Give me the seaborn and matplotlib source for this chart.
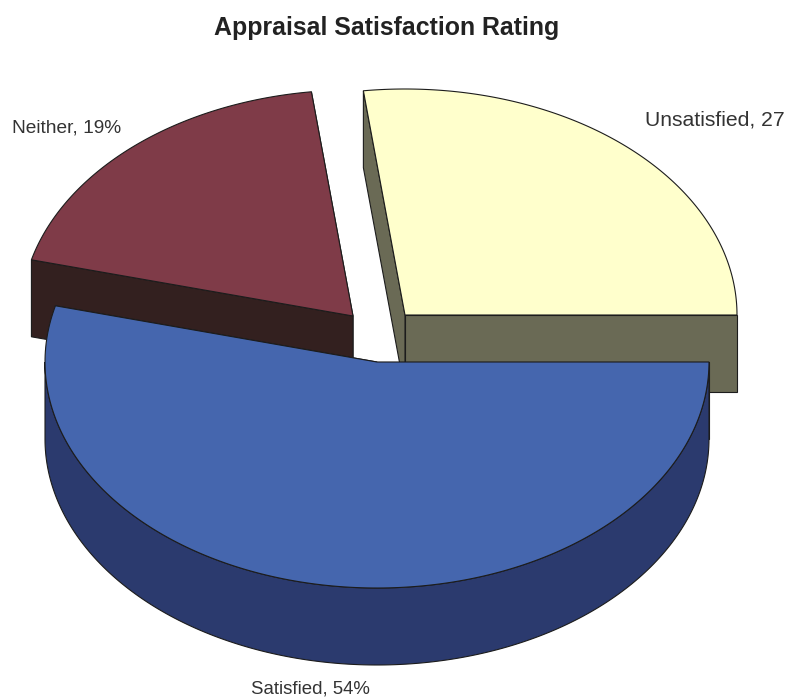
import numpy as np
import matplotlib
matplotlib.use("Agg")
import matplotlib.pyplot as plt
import seaborn as sns

categories = ["Unsatisfied", "Satisfied", "Neither"]
shares = [27, 54, 19]
# as printed in the chart, the first one loses its % at the picture edge
labels = ["Unsatisfied, 27", "Satisfied, 54%", "Neither, 19%"]
title = "Appraisal Satisfaction Rating"

top_colors = sns.color_palette(["#FFFFCC", "#4566AE", "#7F3B48"])
side_colors = sns.color_palette(["#6A6A55", "#2B3A6E", "#33201F"])

# wedge centres in image pixels, the slices are pulled apart
centres = [(405, 315), (377, 362), (353, 316)]
label_pos = [(645, 120), (251, 689), (12, 128)]
label_sizes = [15.2, 13.4, 13.8]
RX, RY = 332, 226
DEPTH = 77
EDGE = "#1c1c1c"

sns.set_style("white")
plt.rcParams["font.family"] = ["Liberation Sans", "DejaVu Sans"]


def rim(cx, cy, a0, a1, dy=0):
    t = np.radians(np.linspace(a0, a1, 200))
    return cx + RX * np.cos(t), cy - RY * np.sin(t) + dy


def draw_slice(ax, centre, a0, a1, top, side):
    cx, cy = centre
    # radial faces first, they sit behind the rim
    for a in (a0, a1):
        x, y = rim(cx, cy, a, a, 0)
        px = [cx, x[0], x[0], cx]
        py = [cy, y[0], y[0] + DEPTH, cy + DEPTH]
        ax.fill(px, py, color=side, ec=EDGE, lw=0.8, zorder=2)
    # front rim, only the part of the arc facing the viewer
    lo, hi = max(a0, -180), min(a1, 0)
    if lo < hi:
        x, y = rim(cx, cy, lo, hi)
        ax.fill(np.r_[x, x[::-1]], np.r_[y, y[::-1] + DEPTH],
                color=side, ec=EDGE, lw=0.8, zorder=2)
    x, y = rim(cx, cy, a0, a1)
    ax.fill(np.r_[cx, x], np.r_[cy, y], color=top, ec=EDGE, lw=0.8, zorder=3)


fig = plt.figure(figsize=(7.88, 6.98), dpi=100)
ax = fig.add_axes([0, 0, 1, 1])
ax.set_xlim(0, 788)
ax.set_ylim(698, 0)
ax.axis("off")

# slices run clockwise from the right hand side, the yellow one ends at 0 deg
bounds = {}
start = 360 * shares[0] / sum(shares)
for i, name in enumerate(categories):
    span = 360 * shares[i] / sum(shares)
    bounds[name] = (start - span, start)
    start -= span

# back slices first, the big front slice covers them
for i in (0, 2, 1):
    a0, a1 = bounds[categories[i]]
    draw_slice(ax, centres[i], a0, a1, top_colors[i], side_colors[i])

for label, pos, size in zip(labels, label_pos, label_sizes):
    ax.text(pos[0], pos[1], label, fontsize=size, color="#333333",
            ha="left", va="center", clip_on=False)

ax.text(387, 28, title, fontsize=17.9, fontweight="bold", color="#222222",
        ha="center", va="center")

fig.savefig("out.png", dpi=100)
